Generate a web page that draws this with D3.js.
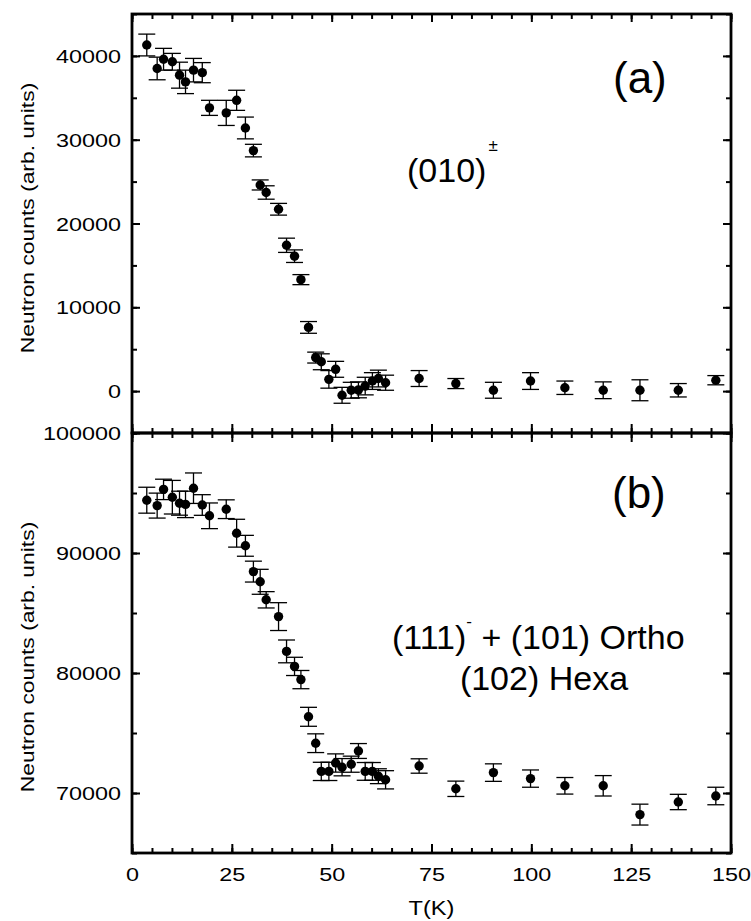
<!DOCTYPE html>
<html>
<head>
<meta charset="utf-8">
<script src="https://cdn.jsdelivr.net/npm/d3@7"></script>
<style>
  body { margin: 0; background: #fff; }
  svg { display: block; }
  text { font-family: "Liberation Sans", Arial, Helvetica, sans-serif; fill: #000; }
</style>
</head>
<body>
<svg id="chart" width="751" height="921"></svg>
<script>
// Temperature points (K), shared by both panels
const temps = [3.7, 6.3, 7.9, 10.1, 11.9, 13.4, 15.4, 17.6, 19.4, 23.6,
               26.2, 28.4, 30.4, 32.1, 33.6, 36.7, 38.7, 40.7, 42.3, 44.2,
               46.0, 47.4, 49.3, 51.0, 52.6, 54.9, 56.7, 58.4, 60.2, 61.7,
               63.5, 71.9, 81.1, 90.5, 99.8, 108.4, 118.0, 127.2, 136.8, 146.2];

// Panel (a): (010)± reflection
const countsA = [41300, 38500, 39600, 39300, 37700, 36900, 38300, 38000, 33800, 33200,
                 34700, 31400, 28700, 24600, 23700, 21700, 17400, 16100, 13300, 7600,
                 4000, 3500, 1400, 2600, -500, 100, 150, 600, 1200, 1500,
                 1000, 1500, 900, 100, 1200, 400, 100, 100, 100, 1300];
const errA = [1300, 1350, 1300, 1000, 1550, 1400, 1400, 1200, 900, 1500,
              1200, 1300, 750, 600, 800, 700, 850, 750, 600, 700,
              650, 950, 1050, 950, 950, 950, 950, 1050, 1000, 1000,
              900, 950, 600, 950, 1000, 800, 1000, 1250, 800, 550];

// Panel (b): (111)- + (101) Ortho / (102) Hexa reflection
const countsB = [94400, 93950, 95300, 94650, 94150, 94050, 95400, 94000, 93100, 93650,
                 91650, 90600, 88450, 87600, 86100, 84700, 81800, 80550, 79450, 76350,
                 74150, 71800, 71800, 72500, 72150, 72400, 73500, 71800, 71800, 71400,
                 71100, 72250, 70350, 71700, 71200, 70600, 70600, 68200, 69250, 69750];
const errB = [1080, 1040, 850, 1400, 1000, 1100, 1270, 860, 1070, 780,
              1160, 870, 870, 1040, 680, 1160, 950, 760, 760, 790,
              780, 760, 760, 760, 720, 670, 620, 740, 740, 620,
              760, 600, 640, 730, 720, 690, 850, 870, 640, 730];

const xTicks = [0, 25, 50, 75, 100, 125, 150];
const xMinor = d3.range(0, 151, 5);
const yTicksA = [0, 10000, 20000, 30000, 40000];
const yMinorA = d3.range(-5000, 45001, 5000);
const yTicksB = [70000, 80000, 90000, 100000];
const yMinorB = d3.range(65000, 100001, 5000);

const svg = d3.select("#chart");
const L = 132, R = 731, T = 14, M = 433, B = 853;

const x = d3.scaleLinear().domain([0, 150]).range([L, R]);
const yA = d3.scaleLinear().domain([-5000, 45000]).range([M, T]);
const yB = d3.scaleLinear().domain([65000, 100000]).range([B, M]);

const SX = 1.3; // horizontal stretch of tick label glyphs

function styleTicks(g, w) {
  g.select(".domain").remove();
  g.selectAll(".tick line").attr("stroke", "#000").attr("stroke-width", w);
}

// ---- Ticks ----
function yAxes(scale, major, minor, labels) {
  const gl = svg.append("g").attr("transform", `translate(${L},0)`);
  gl.call(d3.axisLeft(scale).tickValues(minor).tickSize(-5).tickFormat(""));
  styleTicks(gl, 2);
  const gL = svg.append("g").attr("transform", `translate(${L},0)`);
  gL.call(d3.axisLeft(scale).tickValues(major).tickSize(-8).tickFormat(d3.format("d")));
  styleTicks(gL, 2);
  gL.selectAll("text")
    .attr("x", null).attr("dy", null)
    .attr("text-anchor", "end")
    .attr("font-size", 18)
    .attr("transform", `translate(-11,6.5) scale(${SX},1)`);
  if (!labels) gL.selectAll("text").remove();

  const gr = svg.append("g").attr("transform", `translate(${R},0)`);
  gr.call(d3.axisRight(scale).tickValues(minor).tickSize(-5).tickFormat(""));
  styleTicks(gr, 2);
  const gR = svg.append("g").attr("transform", `translate(${R},0)`);
  gR.call(d3.axisRight(scale).tickValues(major).tickSize(-8).tickFormat(""));
  styleTicks(gR, 2);
}
yAxes(yA, yTicksA, yMinorA, true);
yAxes(yB, yTicksB, yMinorB, true);

function xAxis(axisFn, yPos, size, minorSize) {
  const gm = svg.append("g").attr("transform", `translate(0,${yPos})`);
  gm.call(axisFn(x).tickValues(xMinor).tickSize(minorSize).tickFormat(""));
  styleTicks(gm, 2);
  const g = svg.append("g").attr("transform", `translate(0,${yPos})`);
  g.call(axisFn(x).tickValues(xTicks).tickSize(size).tickFormat(""));
  styleTicks(g, 2);
  return g;
}
xAxis(d3.axisTop, T, -8, -5);       // top edge, ticks downward
xAxis(d3.axisBottom, M, -9, -5);    // shared edge, ticks into panel (a)
xAxis(d3.axisTop, M, -9, -5);       // shared edge, ticks into panel (b)
const gx = xAxis(d3.axisBottom, B, -9, -5);
gx.call(d3.axisBottom(x).tickValues(xTicks).tickSize(-9).tickFormat(d3.format("d")));
styleTicks(gx, 2);
gx.selectAll("text")
  .attr("y", null).attr("dy", null)
  .attr("font-size", 18)
  .attr("text-anchor", "middle")
  .attr("transform", `translate(0,27.5) scale(${SX},1)`);

// ---- Frames ----
[[T, M], [M, B]].forEach(([y0, y1]) => {
  svg.append("rect")
    .attr("x", L).attr("y", y0)
    .attr("width", R - L).attr("height", y1 - y0)
    .attr("fill", "none").attr("stroke", "#000").attr("stroke-width", 2.8);
});

// ---- Data with error bars ----
function drawSeries(scale, vals, errs) {
  const data = temps.map((t, i) => ({ t, v: vals[i], e: errs[i] }));
  const g = svg.append("g");
  const cap = 8.5;
  const eb = g.selectAll("g.eb").data(data).join("g").attr("class", "eb")
    .attr("stroke", "#000").attr("stroke-width", 1.3);
  eb.append("line")
    .attr("x1", d => x(d.t)).attr("x2", d => x(d.t))
    .attr("y1", d => scale(d.v - d.e)).attr("y2", d => scale(d.v + d.e));
  eb.append("line")
    .attr("x1", d => x(d.t) - cap).attr("x2", d => x(d.t) + cap)
    .attr("y1", d => scale(d.v + d.e)).attr("y2", d => scale(d.v + d.e));
  eb.append("line")
    .attr("x1", d => x(d.t) - cap).attr("x2", d => x(d.t) + cap)
    .attr("y1", d => scale(d.v - d.e)).attr("y2", d => scale(d.v - d.e));
  g.selectAll("circle").data(data).join("circle")
    .attr("cx", d => x(d.t)).attr("cy", d => scale(d.v))
    .attr("r", 4.7).attr("fill", "#000");
}
drawSeries(yA, countsA, errA);
drawSeries(yB, countsB, errB);

// ---- Axis titles ----
const yTitle = "Neutron counts (arb. units)";
[[218], [657]].forEach(([cy]) => {
  svg.append("text")
    .attr("transform", `translate(34,${cy}) rotate(-90) scale(1.27,1)`)
    .attr("text-anchor", "middle")
    .attr("font-size", 18)
    .text(yTitle);
});
svg.append("text")
  .attr("transform", `translate(${(L + R) / 2},915) scale(1.18,1)`)
  .attr("text-anchor", "middle")
  .attr("font-size", 20)
  .text("T(K)");

// ---- Panel annotations ----
svg.append("text").attr("x", 613).attr("y", 93).attr("font-size", 44).text("(a)");
svg.append("text").attr("x", 612).attr("y", 508).attr("font-size", 44).text("(b)");

const tA = svg.append("text").attr("x", 407).attr("y", 182).attr("font-size", 34);
tA.append("tspan").text("(010)");
tA.append("tspan").attr("font-size", 17).attr("dy", -31).attr("dx", 2).text("±");

const tB = svg.append("text").attr("x", 392).attr("y", 649).attr("font-size", 34);
tB.append("tspan").text("(111)");
tB.append("tspan").attr("font-size", 17).attr("dy", -22).text("-");
tB.append("tspan").attr("dy", 22).text(" + (101) Ortho");
svg.append("text").attr("x", 544).attr("y", 690).attr("font-size", 34)
  .attr("text-anchor", "middle").text("(102) Hexa");
</script>
</body>
</html>
